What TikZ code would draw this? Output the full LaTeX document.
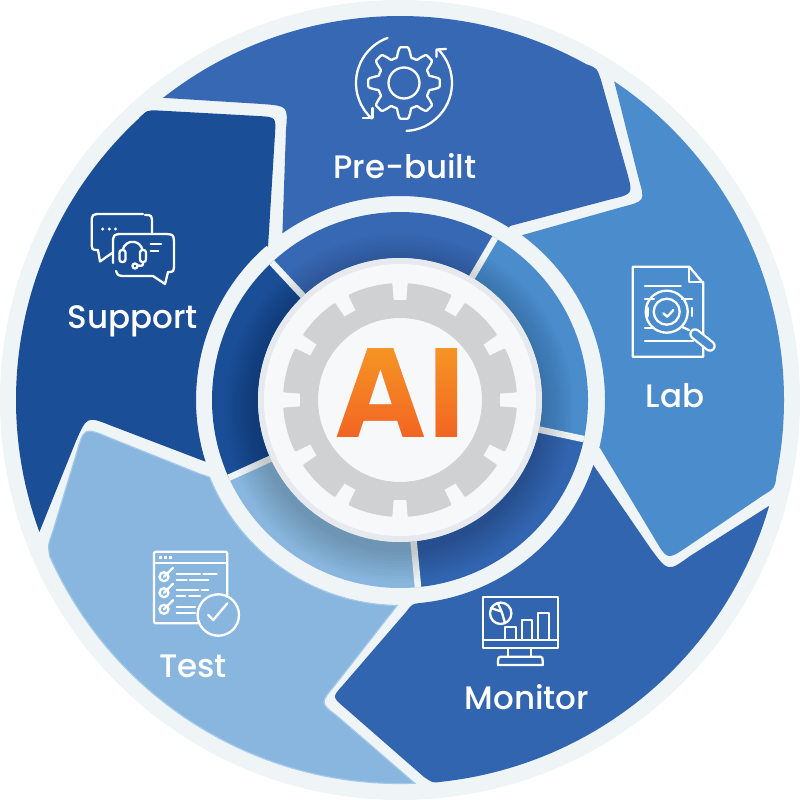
\documentclass[tikz,border=0pt]{standalone}
\usepackage{fontspec}
\newfontfamily\labfont{Poppins Medium}
\newfontfamily\aifont{DejaVu Sans Bold}
\definecolor{pale}{HTML}{EFF4F7}
\definecolor{core}{HTML}{F6F8FA}
\definecolor{coreedge}{HTML}{E6EAEE}
\definecolor{gearc}{HTML}{CFD1D3}
\definecolor{cPre}{HTML}{3768B3}
\definecolor{cLab}{HTML}{4A8CCC}
\definecolor{cMon}{HTML}{3265B0}
\definecolor{cTest}{HTML}{88B6DE}
\definecolor{cTestB}{HTML}{A2C8EA}
\definecolor{cSup}{HTML}{1A4E96}
\definecolor{aiTop}{HTML}{F6961F}
\definecolor{aiBot}{HTML}{F26323}
\tikzset{
  seglabel/.style={text=white,font=\labfont\fontsize{32.5}{33}\selectfont,anchor=base,inner sep=0pt},
  icon/.style={draw=white,line width=2.3pt,line cap=round,line join=round},
  ctr/.style={shift={(400,400)}}
}
\newcommand{\ringsec}[3]{\fill[#3] (#1:142) arc[start angle=#1,end angle=#2,radius=142pt] -- (#2:188) arc[start angle=#2,end angle=#1,radius=188pt] -- cycle;}
\begin{document}
\begin{tikzpicture}[x=1pt,y=1pt,yscale=-1]
\useasboundingbox (0,0) rectangle (800,800);
\fill[pale] (400,400) circle[radius=400pt];
% Pre-built
\fill[cPre] ([ctr]-128.1:384) arc[start angle=-128.1,end angle=-61,radius=384pt]
  .. controls (597,68) .. (601,80)
  -- (627,172) .. controls (633,194) .. (612,199)
  -- (510,226) -- ([ctr]-57.7:204) arc[start angle=-57.7,end angle=-125.2,radius=204pt]
  -- (286,130) .. controls (288,106) .. (262,104) -- cycle;
% Support
\fill[cSup] ([ctr]159.9:384) arc[start angle=159.9,end angle=227,radius=384pt]
  .. controls (147,110) .. (158,110.5)
  -- (258,116) .. controls (276,117) .. (275,134)
  -- (268,247) -- ([ctr]229.2:204) arc[start angle=229.2,end angle=162.4,radius=204pt]
  -- (112,426) .. controls (87,416) .. (76,441) -- cycle;
% Lab
\fill[cLab] ([ctr]-56.1:384) arc[start angle=-56.1,end angle=11.5,radius=384pt]
  .. controls (775,488) .. (762,496)
  -- (684,549) .. controls (667,560) .. (653,536)
  -- (600,448) -- ([ctr]13.5:205) arc[start angle=13.5,end angle=-53.5,radius=205pt]
  -- (622,207) .. controls (645,201) .. (639,180) -- cycle;
% Monitor
\fill[cMon] ([ctr]16:384) arc[start angle=16,end angle=84,radius=384pt]
  .. controls (433,783) .. (424,777)
  -- (345,708) .. controls (332,697) .. (343,685)
  -- (406,612) .. controls (412,604) .. ([ctr]84.4:204)
  arc[start angle=84.4,end angle=18.6,radius=204pt]
  -- (651,549) .. controls (668,572) .. (690,556) -- cycle;
% Test
\filldraw[fill=cTest,draw=cTestB,line width=1.2pt] ([ctr]87.8:383.5) arc[start angle=87.8,end angle=156,radius=383.5pt]
  .. controls (48,545) .. (53,531)
  -- (76,455) .. controls (84,427) .. (110,438)
  -- (200,474) .. controls (206,476) .. ([ctr]157.9:205.5)
  arc[start angle=157.9,end angle=90.8,radius=205.5pt]
  -- (335,685) .. controls (320,703) .. (337,716) -- cycle;
\begin{scope}[ctr]
% inner ring
\ringsec{-133}{-59.6}{cPre}
\ringsec{-59.6}{12}{cLab}
\ringsec{12}{84.5}{cMon}
\ringsec{84.5}{155.6}{cTest}
\ringsec{155.6}{227}{cSup}
\coordinate (d1a) at (-133:142); \coordinate (d1b) at (-133:188);
\coordinate (d2a) at (-59.6:142); \coordinate (d2b) at (-59.6:188);
\coordinate (d3a) at (12:142); \coordinate (d3b) at (12:188);
\coordinate (d4a) at (84.5:142); \coordinate (d4b) at (84.5:188);
\coordinate (d5a) at (155.6:142); \coordinate (d5b) at (155.6:188);
\foreach \p/\q in {d1a/d1b,d2a/d2b,d3a/d3b,d4a/d4b,d5a/d5b}{\draw[pale,line width=6.5pt] (\p) -- (\q);}
% shadow
\begin{scope}
\clip (0,0) circle[radius=188pt];
\foreach \r in {144,147,...,174}{\fill[black,opacity=.014] (-1,8) circle[radius=\r pt];}
\end{scope}
% core
\fill[coreedge] (0,0) circle[radius=142pt];
\fill[core] (0,0) circle[radius=136pt];
% gear
\fill[gearc,even odd rule] (0,0) circle[radius=100pt] (0,0) circle[radius=82pt];
\foreach \c in {15,45,...,345}{
  \filldraw[fill=gearc,draw=gearc,line width=3pt,line join=round]
   (\c-10.5:97) -- (\c-10.5:115.5) arc[start angle=\c-10.5,end angle=\c+10.5,radius=115.5pt] -- (\c+10.5:97) -- cycle;
}
\end{scope}
% AI
\node[anchor=base,inner sep=0pt,xscale=.94,text=aiBot,font=\aifont\fontsize{122}{122}\selectfont] (ai) at (402,437) {AI};
\begin{scope}[blend mode=lighten]
\clip (400,400) circle[radius=81pt];
\shade[top color=aiTop,bottom color=aiBot] (332,346) rectangle (468,440);
\end{scope}
% labels
\node[seglabel] (tpre) at (405,178) {Pre-built};
\node[seglabel] (tsup) at (133,328) {Support};
\node[seglabel] (tlab) at (675,407) {Lab};
\node[seglabel] (tmon) at (527,709) {Monitor};
\node[seglabel] (ttest) at (193,677) {Test};
% gear icon
\draw[icon] (404,83) circle[radius=15.5pt];
\draw[icon] plot[domain=0:360,samples=193,smooth] ({404+(31+4.8*max(-1,min(1,1.7*cos(8*\x))))*cos(\x)},{83+(31+4.8*max(-1,min(1,1.7*cos(8*\x))))*sin(\x)}) -- cycle;
\draw[icon] (404,83) ++(250:48) arc[start angle=250,end angle=132,radius=48pt];
\draw[icon] (363,118) -- (372.5,118) -- (372.5,108);
\draw[icon] (404,83) ++(87:48) arc[start angle=87,end angle=-44,radius=48pt];
\draw[icon] (446,49) -- (436.5,49.5) -- (436.5,57);
% support icon
\draw[icon] (143,214) -- (102,214) .. controls (91.7,214) .. (91.7,224) -- (91.7,241) .. controls (91.7,250) .. (98,250) -- (100,261.5) -- (112,253);
\draw[icon] (145,215) .. controls (152,215) .. (152,225) -- (152,233);
\foreach \x in {102.7,109.3,115.5}{\fill[white] (\x,229) circle[radius=1.7pt];}
\draw[icon] (113,263) -- (113,245) .. controls (113,234) .. (124,234) -- (162,234) .. controls (174,234) .. (174,246) -- (174,262) .. controls (174,272) .. (168,272) -- (165,284) -- (153,276) -- (128,276) .. controls (118,276) .. (116,271);
\draw[icon] (122.7,250) arc[start angle=190,end angle=350,radius=10pt];
\draw[icon,rounded corners=2.5pt] (119.5,250) rectangle (125.5,262);
\draw[icon,rounded corners=2.5pt] (140,250) rectangle (146,262);
\draw[icon] (143,262) .. controls (143,266) .. (138,265.5);
\draw[icon] (135,266) circle[radius=2.5pt];
\draw[icon] (150.7,244.3) -- (161,244.3) (150.7,250.7) -- (158.3,250.7);
% lab icon
\draw[icon] (703.3,335) -- (703.3,283.3) -- (689.3,266.7) -- (632.7,266.7) -- (632.7,356.7) -- (703.3,356.7) -- (703.3,345);
\draw[icon] (689.3,266.7) -- (689.3,282) -- (703.3,282);
\draw[icon] (645,286) -- (680.7,286);
\draw[icon] (645,299) -- (654,299) (682,299) -- (692,299);
\draw[icon] (645,328) -- (654,328);
\draw[icon] (645,341) -- (693,341);
\draw[icon] (648,308) -- (648,316) (692,308) -- (692,316);
\draw[icon] (666.7,311.7) circle[radius=21pt];
\draw[icon] (666.7,311.7) circle[radius=13pt];
\draw[icon] (663.3,313.3) -- (667.3,316.7) -- (673.3,310);
\draw[icon] (682,327) -- (689,330);
\draw[white,line width=11.5pt,line cap=round] (695,334) -- (710,346);
\draw[cLab,line width=7pt,line cap=round] (695,334) -- (710,346);
% monitor icon
\draw[icon] (483.3,596.7) rectangle (557.7,648.3);
\draw[icon] (483.3,640) -- (557.7,640);
\draw[icon] (505,640) -- (505,626.7) -- (515.7,626.7) -- (515.7,640);
\draw[icon] (522.3,640) -- (522.3,620) -- (532.3,620) -- (532.3,640);
\draw[icon] (538.3,640) -- (538.3,612.7) -- (549.3,612.7) -- (549.3,640);
\draw[icon] (500.7,613.3) circle[radius=10.7pt];
\draw[icon] (498,603.5) -- (501.7,611.7) -- (505,623) (501.7,611.7) -- (491,608);
\draw[icon] (508.3,648.3) -- (508.3,656.7) (531,648.3) -- (531,656.7);
\draw[icon] (498,665) .. controls (498,656.7) .. (503,656.7) -- (538,656.7) .. controls (542.7,656.7) .. (542.7,665) -- cycle;
% test icon
\draw[icon] (227.3,597) -- (227.3,556) .. controls (227.3,551.7) .. (223,551.7) -- (158,551.7) .. controls (154,551.7) .. (154,556) -- (154,619) .. controls (154,623.3) .. (158,623.3) -- (199,623.3);
\draw[icon] (156,563.3) -- (226,563.3);
\foreach \x in {160,165.3,170.7}{\fill[white] (\x-1.5,555.8) rectangle (\x+1.5,558.8);}
\foreach \y in {576.7,592.7,609.3}{
  \draw[icon] (164,\y) circle[radius=4.5pt];
  \draw[icon] (164,\y) -- (173,\y-9);
}
\draw[icon] (176.7,574) -- (200,574) (203.3,574) -- (216.7,574);
\draw[icon] (176.7,580) -- (186.7,580) (190,580) -- (208.3,580);
\draw[icon] (176.7,590) -- (198.3,590) (201.7,590) -- (208.3,590);
\draw[icon] (176.7,596) -- (185,596) (189.3,596) -- (200,596);
\draw[icon] (176.7,607.3) -- (195,607.3);
\draw[icon] (176.7,613.3) -- (195,613.3);
\draw[icon] (218.3,615) circle[radius=20.7pt];
\draw[icon] (208.3,615) -- (213.3,620) -- (227.3,603.3);
\end{tikzpicture}
\end{document}
